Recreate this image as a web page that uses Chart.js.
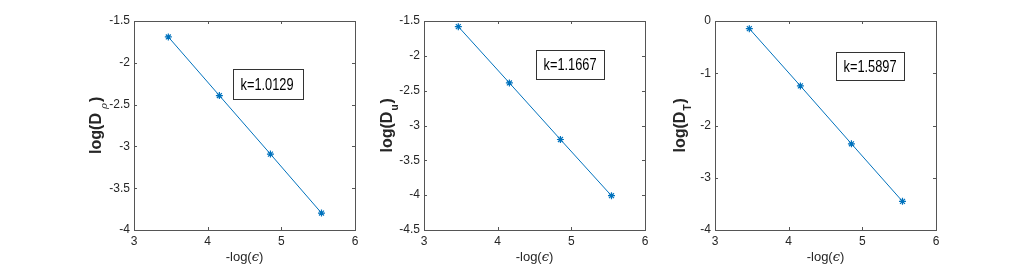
<!DOCTYPE html>
<html>
<head>
<meta charset="utf-8">
<script src="https://cdn.jsdelivr.net/npm/chart.js@4.4.0/dist/chart.umd.min.js"></script>
<style>
  body { margin: 0; background: #fff; width: 1035px; height: 273px; position: relative; overflow: hidden; }
  .panel { position: absolute; top: 0; }
</style>
</head>
<body>
<div class="panel" style="left:64px"><canvas id="c1" width="306" height="273"></canvas></div>
<div class="panel" style="left:354px"><canvas id="c2" width="306" height="273"></canvas></div>
<div class="panel" style="left:645px"><canvas id="c3" width="306" height="273"></canvas></div>
<script>
// x values: -log(eps)
const logEps = [3.466, 4.159, 4.852, 5.545];

// y values
const logDrho = [-1.691, -2.392, -3.092, -3.797];
const logDu = [-1.581, -2.389, -3.201, -4.008];
const logDT = [-0.146, -1.242, -2.350, -3.452];

// fitted slopes shown in the boxes
const slopes = ['k=1.0129', 'k=1.1667', 'k=1.5897'];
const subs = ['\u03C1', 'u', 'T'];

// axis ranges
const yMin = [-4, -4.5, -4];
const yMax = [-1.5, -1.5, 0];
const yStep = [0.5, 0.5, 1];

const blue = '#0072BD';
const ink = '#262626';

// matlab style tick text: -2 not -2.0
const tickText = v => String(+Number(v).toFixed(2));

// draws box, inward ticks, annotation and titles (matlab look)
const framePlugin = {
    id: 'frame',
    afterDraw(chart, args, opts) {
        const ctx = chart.ctx;
        const a = chart.chartArea;
        const xs = chart.scales.x, ys = chart.scales.y;
        ctx.save();

        // axes box
        ctx.strokeStyle = '#555';
        ctx.lineWidth = 1;
        ctx.strokeRect(Math.round(a.left) + 0.5, Math.round(a.top) + 0.5,
            Math.round(a.right - a.left), Math.round(a.bottom - a.top));

        // inward ticks
        ctx.beginPath();
        xs.ticks.forEach(t => {
            const px = Math.round(xs.getPixelForValue(t.value)) + 0.5;
            ctx.moveTo(px, a.bottom); ctx.lineTo(px, a.bottom - 3);
            ctx.moveTo(px, a.top); ctx.lineTo(px, a.top + 3);
        });
        ys.ticks.forEach(t => {
            const py = Math.round(ys.getPixelForValue(t.value)) + 0.5;
            ctx.moveTo(a.left, py); ctx.lineTo(a.left + 3, py);
            ctx.moveTo(a.right, py); ctx.lineTo(a.right - 3, py);
        });
        ctx.stroke();

        // slope annotation box
        const bx0 = Math.round(xs.getPixelForValue(opts.box[0])) + 0.5;
        const bx1 = Math.round(xs.getPixelForValue(opts.box[1])) + 0.5;
        const by0 = Math.round(ys.getPixelForValue(opts.box[2])) + 0.5;
        const by1 = Math.round(ys.getPixelForValue(opts.box[3])) + 0.5;
        ctx.fillStyle = '#fff';
        ctx.fillRect(bx0, by0, bx1 - bx0, by1 - by0);
        ctx.strokeStyle = '#333';
        ctx.strokeRect(bx0, by0, bx1 - bx0, by1 - by0);
        ctx.save();
        ctx.fillStyle = '#000';
        ctx.font = '16px "Liberation Sans", Arial, sans-serif';
        ctx.textBaseline = 'middle';
        ctx.translate(bx0 + 7, (by0 + by1) / 2 + 1);
        ctx.scale(0.8, 1);
        ctx.fillText(opts.label, 0, 0);
        ctx.restore();

        // x title  -log(eps)
        ctx.fillStyle = ink;
        ctx.textBaseline = 'alphabetic';
        const f1 = '13px "Liberation Sans", Arial, sans-serif';
        const f2 = 'italic 13px "DejaVu Serif", serif';
        ctx.font = f1;
        const w1 = ctx.measureText('-log(').width;
        const w3 = ctx.measureText(')').width;
        ctx.font = f2;
        const w2 = ctx.measureText('\u03F5').width;
        let sx = (a.left + a.right) / 2 - (w1 + w2 + w3) / 2;
        ctx.font = f1; ctx.fillText('-log(', sx, 261);
        ctx.font = f2; ctx.fillText('\u03F5', sx + w1, 261);
        ctx.font = f1; ctx.fillText(')', sx + w1 + w2, 261);

        // y title  log(D_sub)
        ctx.save();
        ctx.translate(a.left - opts.titleOff, (a.top + a.bottom) / 2);
        ctx.rotate(-Math.PI / 2);
        const fm = 'bold 16px "Liberation Sans", Arial, sans-serif';
        const fs = opts.subFont;
        ctx.font = fm;
        const m1 = ctx.measureText('log(D').width;
        ctx.font = fs;
        const m2 = ctx.measureText(opts.sub).width;
        const gap = opts.subGap;
        const st = -(m1 + gap + m2 + 6) / 2;
        ctx.font = fm; ctx.fillText('log(D', st, 0);
        ctx.font = fs; ctx.fillText(opts.sub, st + m1 + gap, 6);
        ctx.font = fm; ctx.fillText(')', st + m1 + gap + m2 + 1, 0);
        ctx.restore();

        ctx.restore();
    }
};

function makePanel(id, yData, i, box, titleOff, subFont, subGap) {
    return new Chart(document.getElementById(id), {
        type: 'line',
        data: {
            datasets: [{
                data: logEps.map((x, k) => ({ x: x, y: yData[k] })),
                borderColor: blue,
                borderWidth: 1,
                pointStyle: 'star',
                pointRadius: 3.5,
                pointBorderColor: blue,
                pointBorderWidth: 1.2,
                pointBackgroundColor: blue,
                tension: 0
            }]
        },
        options: {
            responsive: false,
            animation: false,
            events: [],
            layout: { padding: { left: 0, right: 15, top: 21, bottom: 0 } },
            plugins: {
                legend: { display: false },
                tooltip: { enabled: false },
                frame: { box: box, label: slopes[i], sub: subs[i], titleOff: titleOff, subFont: subFont, subGap: subGap }
            },
            scales: {
                x: {
                    type: 'linear',
                    min: 3, max: 6,
                    grid: { display: false, drawTicks: false },
                    border: { display: false },
                    ticks: { stepSize: 1, padding: 4, color: ink, callback: tickText, font: { family: '"Liberation Sans", Arial, sans-serif', size: 12 } },
                    afterFit: s => { s.height = 43; }
                },
                y: {
                    type: 'linear',
                    min: yMin[i], max: yMax[i],
                    grid: { display: false, drawTicks: false },
                    border: { display: false },
                    ticks: { stepSize: yStep[i], padding: 4, color: ink, callback: tickText, font: { family: '"Liberation Sans", Arial, sans-serif', size: 12 } },
                    afterFit: s => { s.width = 70; }
                }
            }
        },
        plugins: [framePlugin]
    });
}

makePanel('c1', logDrho, 0, [4.35, 5.30, -2.08, -2.435], 33, 'italic 10px "DejaVu Serif", serif', 4);
makePanel('c2', logDu, 1, [4.514, 5.443, -1.92, -2.336], 32, 'bold 10px "Liberation Sans", Arial, sans-serif', 1);
makePanel('c3', logDT, 2, [4.64, 5.569, -0.598, -1.134], 30, 'bold 10px "Liberation Sans", Arial, sans-serif', 1);
</script>
</body>
</html>
